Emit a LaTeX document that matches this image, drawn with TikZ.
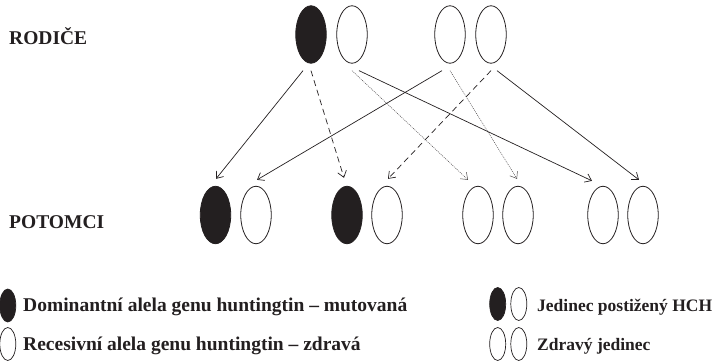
\documentclass[tikz,border=0pt]{standalone}
\usepackage{fontspec}
\setmainfont{Liberation Serif}
\usetikzlibrary{shapes.geometric,arrows.meta}
\definecolor{ink}{HTML}{231F20}
\tikzset{
  allele/.style={ellipse, draw=ink, line width=0.8pt, inner sep=0pt, minimum width=30.5pt, minimum height=57.5pt},
  mut/.style={allele, fill=ink},
  small/.style={ellipse, draw=ink, line width=0.7pt, inner sep=0pt, minimum width=16pt, minimum height=33pt},
  smallmut/.style={small, fill=ink},
  lbl/.style={font=\fontsize{19.5}{21}\selectfont\bfseries, text=ink, inner sep=0pt},
  lblr/.style={lbl, font=\fontsize{17.5}{20}\selectfont\bfseries},
  conn/.style={draw=ink, line width=0.7pt, -{Straight Barb[length=6pt,width=9pt,line width=0.7pt]}},
  dsh/.style={conn, dash pattern=on 6pt off 4pt},
  dtt/.style={conn, draw=ink!80, line width=0.5pt, dash pattern=on 1pt off 1pt, -{Straight Barb[length=6pt,width=9pt,line width=0.5pt]}}
}
\begin{document}
\begin{tikzpicture}[x=1pt,y=-1pt]
\useasboundingbox (0,0) rectangle (716,361);
% parents
\node[mut] (p1) at (311,34.5) {};
\node[allele] (p2) at (352,34.5) {};
\node[allele] (p3) at (450,34.5) {};
\node[allele] (p4) at (491,34.5) {};
% offspring
\node[mut] (o1) at (215.5,215) {};
\node[allele] (o2) at (256,215) {};
\node[mut] (o3) at (347,215) {};
\node[allele] (o4) at (387,215) {};
\node[allele] (o5) at (478,215) {};
\node[allele] (o6) at (518,215) {};
\node[allele] (o7) at (603,215) {};
\node[allele] (o8) at (643,215) {};
% labels
\node[lbl, anchor=base west] (rod) at (9,45) {RODIČE};
\node[lbl, anchor=base west] (pot) at (9,229) {POTOMCI};
% connectors
\draw[conn] ([xshift=-8pt,yshift=-7pt]p1.south) -- ([xshift=0.5pt,yshift=7pt]o1.north);
\draw[dsh]  ([xshift=0pt,yshift=-7pt]p1.south) -- ([xshift=-3pt,yshift=8pt]o3.north);
\draw[dtt]  ([xshift=0pt,yshift=-7pt]p2.south) -- ([xshift=-10pt,yshift=6pt]o5.north);
\draw[conn] ([xshift=7pt,yshift=-7pt]p2.south) -- ([xshift=-11pt,yshift=5pt]o7.north);
\draw[conn] ([xshift=-8pt,yshift=-7pt]p3.south) -- ([xshift=1pt,yshift=6pt]o2.north);
\draw[dtt]  ([xshift=0pt,yshift=-7pt]p3.south) -- ([xshift=-1pt,yshift=7pt]o6.north);
\draw[dsh]  ([xshift=0pt,yshift=-7pt]p4.south) -- ([xshift=1pt,yshift=7pt]o4.north);
\draw[conn] ([xshift=6pt,yshift=-7pt]p4.south) -- ([xshift=-4pt,yshift=6pt]o8.north);
% legend left
\node[smallmut] (l1) at (7.8,305.5) {};
\node[lbl, anchor=base west] (t1) at (23,311.5) {Dominantní alela genu huntingtin – mutovaná};
\node[small] (l2) at (7.8,344) {};
\node[lbl, anchor=base west] (t2) at (23,350.5) {Recesivní alela genu huntingtin – zdravá};
% legend right
\node[smallmut] (r1) at (497.7,304) {};
\node[small] (r2) at (518.8,304) {};
\node[lblr, anchor=base west] (t3) at (537,311.5) {Jedinec postižený HCH};
\node[small] (r3) at (497.7,344) {};
\node[small] (r4) at (518.8,344) {};
\node[lblr, anchor=base west] (t4) at (537,350.5) {Zdravý jedinec};
\end{tikzpicture}
\end{document}
